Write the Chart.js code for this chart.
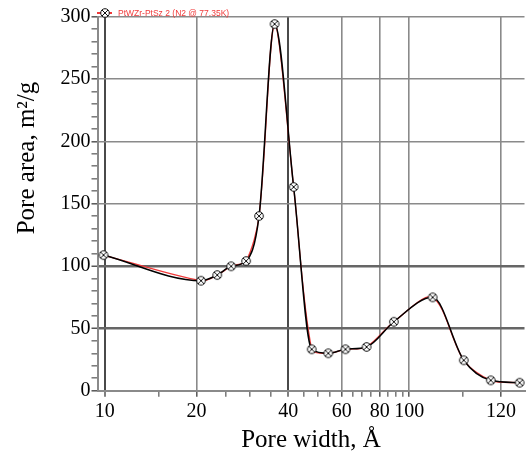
<!DOCTYPE html>
<html>
<head>
<meta charset="utf-8">
<script src="https://cdn.jsdelivr.net/npm/chart.js@4.4.1/dist/chart.umd.min.js"></script>
<style>
  html, body { margin: 0; padding: 0; background: #fff; }
  #wrap { width: 531px; height: 456px; }
</style>
</head>
<body>
<div id="wrap"><canvas id="chart"></canvas></div>
<script>
// pore size distribution, N2 @ 77.35K
const poreWidth = [9.9, 20.7, 23.4, 26.0, 29.1, 32.1, 36.1, 41.7, 47.8, 54.2, 61.7, 72.4, 89.0, 119.3, 151, 185.2, 230.4];
const poreArea = [108.8, 88.2, 92.8, 99.8, 104.0, 140.1, 294.1, 163.4, 33.2, 30.0, 33.2, 35.1, 55.3, 74.9, 24.4, 8.3, 6.4];
const seriesName = 'PtWZr-PtSz 2 (N2 @ 77.35K)';

const xTickValues = [10, 20, 40, 60, 80, 100, 200];
const xTickLabels = ['10', '20', '40', '60', '80', '100', '120'];
const xMinorValues = [15, 25, 30, 35, 45, 50, 55, 65, 70, 75, 85, 90, 95, 150];
const yTickValues = [0, 50, 100, 150, 200, 250, 300];
const yMinorValues = [];
for (let v = 10; v < 300; v += 10) if (v % 50) yMinorValues.push(v);

const SERIF = '"Liberation Serif", "Times New Roman", serif';
const RED = '#f03a3a';

// circle with a cross, used as the point marker
function makeMarker() {
  const c = document.createElement('canvas');
  c.width = 12; c.height = 12;
  const g = c.getContext('2d');
  g.fillStyle = '#fff';
  g.strokeStyle = '#111';
  g.lineWidth = 1;
  g.beginPath(); g.arc(6, 6, 4.3, 0, Math.PI * 2); g.fill(); g.stroke();
  const d = 4.3 * Math.SQRT1_2;
  g.beginPath();
  g.moveTo(6 - d, 6 - d); g.lineTo(6 + d, 6 + d);
  g.moveTo(6 + d, 6 - d); g.lineTo(6 - d, 6 + d);
  g.stroke();
  return c;
}
const marker = makeMarker();

const tickList = (major, minor) =>
  major.map(v => ({ value: v, big: true }))
    .concat(minor.map(v => ({ value: v, big: false })))
    .sort((a, b) => a.value - b.value);

const points = poreWidth.map((w, i) => ({ x: w, y: poreArea[i] }));

// small key in the top-left corner
const seriesKey = {
  id: 'seriesKey',
  afterDraw(chart) {
    const ctx = chart.ctx;
    ctx.save();
    ctx.strokeStyle = RED;
    ctx.lineWidth = 2;
    ctx.beginPath(); ctx.moveTo(97, 13); ctx.lineTo(112, 13); ctx.stroke();
    ctx.drawImage(marker, 105 - 6, 13 - 6);
    ctx.fillStyle = RED;
    ctx.font = '8.5px "Liberation Sans", Arial, sans-serif';
    ctx.textBaseline = 'middle';
    ctx.fillText(seriesName, 118, 13.5);
    ctx.restore();
  }
};

// rotated y title
const yTitle = {
  id: 'yTitle',
  afterDraw(chart) {
    const ctx = chart.ctx;
    ctx.save();
    ctx.translate(27, 158);
    ctx.rotate(-Math.PI / 2);
    ctx.fillStyle = '#000';
    ctx.font = '25px ' + SERIF;
    ctx.textAlign = 'center';
    ctx.textBaseline = 'middle';
    ctx.fillText('Pore area, m²/g', 0, 0);
    ctx.restore();
  }
};

new Chart(document.getElementById('chart'), {
  type: 'line',
  data: {
    datasets: [
      {
        label: seriesName,
        data: points,
        borderColor: '#000',
        borderWidth: 1.5,
        cubicInterpolationMode: 'monotone',
        pointStyle: marker,
        pointRadius: 5,
        clip: false,
        order: 0
      },
      {
        label: 'fit',
        data: points,
        borderColor: RED,
        borderWidth: 1.3,
        tension: 0.3,
        pointRadius: 0,
        clip: false,
        order: 1
      }
    ]
  },
  options: {
    responsive: true,
    maintainAspectRatio: false,
    animation: false,
    layout: { padding: { top: 16.7, right: 0, left: 0, bottom: 0 } },
    plugins: { legend: { display: false }, tooltip: { enabled: false } },
    scales: {
      x: {
        type: 'logarithmic',
        min: 9.46,
        max: 239,
        afterBuildTicks: s => { s.ticks = tickList(xTickValues, xMinorValues); },
        afterFit: s => { s.height = 65.3; },
        ticks: {
          autoSkip: false,
          maxRotation: 0,
          padding: 3,
          color: '#000',
          font: { family: SERIF, size: 20 },
          callback: v => {
            const i = xTickValues.indexOf(v);
            return i < 0 ? '' : xTickLabels[i];
          }
        },
        grid: {
          tickLength: 6,
          color: c => {
            if (!c.tick || !c.tick.big) return 'rgba(0,0,0,0)';
            return (c.tick.value === 10 || c.tick.value === 40) ? '#4a4a4a' : '#8a8a8a';
          },
          lineWidth: c => (c.tick && (c.tick.value === 10 || c.tick.value === 40)) ? 2 : 1.6,
          tickColor: c => (c.tick && c.tick.big) ? '#555' : '#777',
          tickWidth: 1.5
        },
        border: { color: '#8a8a8a', width: 2 },
        title: {
          display: true,
          text: 'Pore width, Å',
          color: '#000',
          font: { family: SERIF, size: 25 },
          padding: { top: 0, bottom: 1 }
        }
      },
      y: {
        min: 0,
        max: 300,
        afterBuildTicks: s => { s.ticks = tickList(yTickValues, yMinorValues); },
        afterFit: s => { s.width = 97.5; },
        ticks: {
          autoSkip: false,
          padding: 1,
          color: '#000',
          font: { family: SERIF, size: 20 },
          callback: v => (yTickValues.includes(v) ? String(v) : '')
        },
        grid: {
          tickLength: 6,
          color: c => {
            if (!c.tick || !c.tick.big) return 'rgba(0,0,0,0)';
            return (c.tick.value === 50 || c.tick.value === 100) ? '#666' : '#8a8a8a';
          },
          lineWidth: c => (c.tick && (c.tick.value === 50 || c.tick.value === 100)) ? 2.5 : 1.6,
          tickColor: c => (c.tick && c.tick.big) ? '#555' : '#777',
          tickWidth: 1.5
        },
        border: { color: '#8a8a8a', width: 2 }
      }
    }
  },
  plugins: [seriesKey, yTitle]
});
</script>
</body>
</html>
